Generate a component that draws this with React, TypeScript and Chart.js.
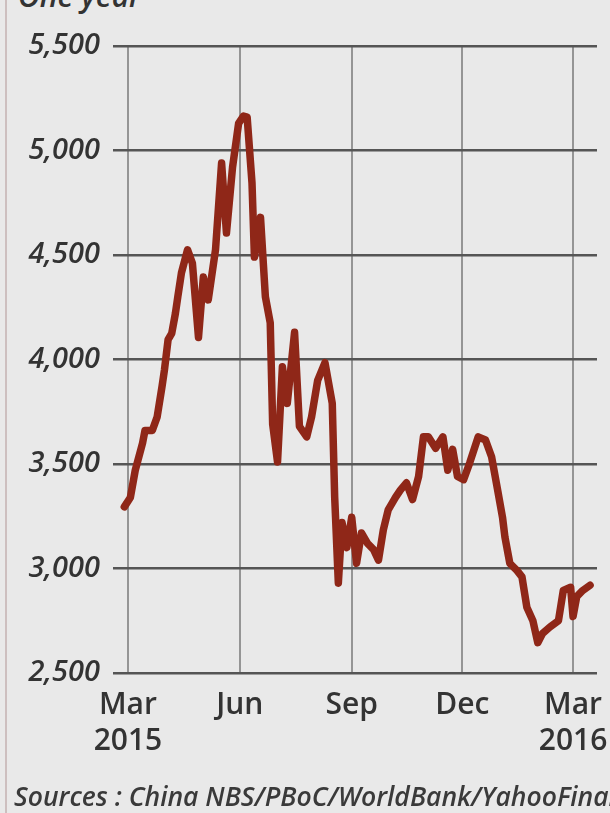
import React, { useEffect, useRef } from "react";
import { Chart, registerables } from "chart.js";

Chart.register(...registerables);

// Days since 1 Mar 2015
const days = [
  -3, 2, 6, 12, 14, 20, 24, 28, 30, 33, 36, 39, 41, 44, 49, 53, 58, 62, 66, 72,
  77, 81, 86, 91, 95, 98, 102, 104, 109, 113, 117, 119, 123, 127, 131, 137, 141,
  147, 151, 156, 162, 168, 170, 173, 176, 180, 184, 188, 192, 197, 202, 206, 210,
  214, 220, 224, 229, 234, 239, 243, 247, 253, 259, 263, 267, 271, 276, 281, 288,
  294, 299, 304, 308, 310, 314, 320, 324, 328, 333, 337, 341, 347, 354, 358, 364,
  366, 369, 374, 380,
];
// Shanghai composite index
const values = [
  3295, 3340, 3470, 3600, 3660, 3660, 3725, 3870, 3950, 4095, 4125, 4220, 4300,
  4415, 4525, 4460, 4105, 4395, 4285, 4525, 4940, 4605, 4920, 5130, 5165, 5160,
  4845, 4490, 4680, 4300, 4175, 3690, 3510, 3965, 3790, 4130, 3680, 3630, 3725,
  3900, 3985, 3790, 3340, 2930, 3220, 3100, 3245, 3025, 3170, 3120, 3090, 3040,
  3185, 3280, 3340, 3375, 3410, 3330, 3440, 3630, 3630, 3575, 3630, 3470, 3570,
  3440, 3425, 3505, 3630, 3615, 3535, 3375, 3245, 3150, 3025, 2990, 2960, 2815,
  2750, 2645, 2690, 2720, 2750, 2895, 2910, 2770, 2865, 2895, 2920,
];
const tickDays = [0, 92, 184, 275, 366];
const tickLabels = [["Mar", "2015"], ["Jun"], ["Sep"], ["Dec"], ["Mar", "2016"]];
const yTicks = [2500, 3000, 3500, 4000, 4500, 5000, 5500];

const TEXT = "#333333";
const BG = "#e9e9e9";

export default function App() {
  const ref = useRef<HTMLCanvasElement>(null);
  useEffect(() => {
    const ctx = ref.current!;
    const chart = new Chart(ctx, {
      type: "line",
      data: {
        datasets: [
          {
            data: days.map((d, i) => ({ x: d, y: values[i] })),
            borderColor: "#8f2718",
            borderWidth: 7.5,
            pointRadius: 0,
            tension: 0,
            borderJoinStyle: "round",
            borderCapStyle: "round",
          },
        ],
      },
      options: {
        animation: false,
        responsive: false,
        maintainAspectRatio: false,
        layout: { padding: { top: 46, right: 13, bottom: 0, left: 0 } },
        plugins: { legend: { display: false }, tooltip: { enabled: false } },
        scales: {
          x: {
            type: "linear",
            min: -12.3,
            max: 385.7,
            afterBuildTicks: (s: any) => {
              s.ticks = tickDays.map((v) => ({ value: v }));
            },
            afterFit: (s: any) => {
              s.height = 140;
              s.paddingLeft = 0;
              s.paddingRight = 0;
            },
            ticks: {
              autoSkip: false,
              maxRotation: 0,
              padding: 14,
              color: TEXT,
              font: { family: "Open Sans", size: 30, weight: "600", lineHeight: 1.2 },
              callback: (v: any) => {
                const i = tickDays.indexOf(Number(v));
                return i >= 0 ? tickLabels[i] : "";
              },
            },
            grid: {
              color: "rgba(120,120,120,0.75)",
              lineWidth: 2,
              drawTicks: false,
            },
            border: { display: false },
          },
          y: {
            min: 2500,
            max: 5500,
            afterBuildTicks: (s: any) => {
              s.ticks = yTicks.map((v) => ({ value: v }));
            },
            afterFit: (s: any) => {
              s.width = 113;
            },
            ticks: {
              padding: 13,
              color: TEXT,
              font: { family: "Open Sans", size: 29, weight: "600", style: "italic" },
              callback: (v: any) => Number(v).toLocaleString("en-US"),
            },
            grid: {
              color: "#555555",
              lineWidth: 2.5,
              drawTicks: false,
            },
            border: { display: false },
          },
        },
      },
    });
    return () => chart.destroy();
  }, []);

  return (
    <div
      style={{
        position: "fixed",
        left: 0,
        top: 0,
        width: 610,
        height: 813,
        background: BG,
        overflow: "hidden",
        fontFamily: "Open Sans",
      }}
    >
      <div style={{ position: "absolute", left: 5, top: 0, width: 2, height: 813, background: "#cdbfbf" }} />
      <div
        style={{
          position: "absolute",
          left: 18,
          top: -19,
          fontSize: 30,
          lineHeight: "30px",
          fontStyle: "italic",
          fontWeight: 600,
          color: TEXT,
          whiteSpace: "nowrap",
        }}
      >
        One year
      </div>
      <canvas ref={ref} width={610} height={813} style={{ position: "absolute", left: 0, top: 0 }} />
      <div
        style={{
          position: "absolute",
          left: 14,
          top: 783,
          fontSize: 26.5,
          lineHeight: "26px",
          fontStyle: "italic",
          fontWeight: 600,
          color: "#3a3a3a",
          whiteSpace: "nowrap",
        }}
      >
        Sources : China NBS/PBoC/WorldBank/YahooFinance
      </div>
    </div>
  );
}
